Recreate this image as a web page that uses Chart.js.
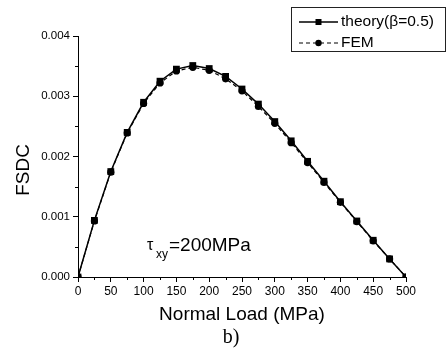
<!DOCTYPE html>
<html>
<head>
<meta charset="utf-8">
<script src="https://cdn.jsdelivr.net/npm/chart.js@4"></script>
<style>
  body { margin: 0; background: #fff; }
  #wrap { width: 447px; height: 351px; }
</style>
</head>
<body>
<div id="wrap"><canvas id="myChart" width="447" height="351"></canvas></div>
<script>
// values
const loads  = [0, 25, 50, 75, 100, 125, 150, 175, 200, 225, 250, 275, 300, 325, 350, 375, 400, 425, 450, 475, 500];
const theory = [0, 0.00094, 0.00175, 0.0024, 0.0029, 0.00325, 0.00345, 0.00351, 0.00346, 0.00333, 0.00312, 0.00287, 0.00258, 0.00226, 0.00192, 0.00159, 0.00125, 0.00093, 0.00061, 0.0003, 0];
const fem    = [0, 0.00093, 0.00174, 0.00239, 0.00288, 0.00322, 0.00342, 0.00348, 0.00343, 0.00329, 0.00309, 0.00283, 0.00255, 0.00223, 0.0019, 0.00157, 0.00124, 0.00092, 0.0006, 0.0003, 0];
const xTicks = [0, 50, 100, 150, 200, 250, 300, 350, 400, 450, 500];
const yTicks = [0, 0.001, 0.002, 0.003, 0.004];
const xMinor = [25, 75, 125, 175, 225, 275, 325, 375, 425, 475];
const yMinor = [0.0005, 0.0015, 0.0025, 0.0035];

const sans = "'Liberation Sans', Arial, sans-serif";

const toPts = (xs, ys) => xs.map((x, i) => ({ x: x, y: ys[i] }));

// minor ticks, titles, annotation, legend
const extras = {
  id: 'extras',
  afterDraw(chart) {
    const ctx = chart.ctx;
    const xs = chart.scales.x, ys = chart.scales.y;
    const area = chart.chartArea;
    ctx.save();
    ctx.strokeStyle = '#000';
    ctx.lineWidth = 1;
    ctx.beginPath();
    xMinor.forEach(v => {
      const px = Math.round(xs.getPixelForValue(v)) + 0.5;
      ctx.moveTo(px, area.bottom);
      ctx.lineTo(px, area.bottom + 3);
    });
    yMinor.forEach(v => {
      const py = Math.round(ys.getPixelForValue(v)) + 0.5;
      ctx.moveTo(area.left, py);
      ctx.lineTo(area.left - 3, py);
    });
    ctx.stroke();

    ctx.fillStyle = '#000';
    ctx.textAlign = 'center';
    ctx.textBaseline = 'middle';
    ctx.font = '19px ' + sans;
    ctx.fillText('Normal Load (MPa)', (area.left + area.right) / 2, 315);
    ctx.save();
    ctx.translate(24, 170);
    ctx.rotate(-Math.PI / 2);
    ctx.fillText('FSDC', 0, 0);
    ctx.restore();

    ctx.font = "20px 'Liberation Serif', 'Times New Roman', serif";
    ctx.fillText('b)', 231, 338);

    // tau_xy annotation
    ctx.textAlign = 'left';
    ctx.font = '16px ' + sans;
    ctx.fillText('τ', 147, 246);
    ctx.font = '12px ' + sans;
    ctx.fillText('xy', 156, 255);
    ctx.font = '19px ' + sans;
    ctx.fillText('=200MPa', 169, 246);

    // legend
    ctx.strokeStyle = '#222';
    ctx.strokeRect(291.5, 7.5, 154, 44);
    const rows = [
      { ds: chart.data.datasets[0], y: 22 },
      { ds: chart.data.datasets[1], y: 43 }
    ];
    rows.forEach(r => {
      ctx.save();
      ctx.strokeStyle = '#000';
      ctx.lineWidth = r.ds.borderWidth;
      ctx.setLineDash(r.ds.borderDash || []);
      ctx.beginPath();
      ctx.moveTo(299, r.y);
      ctx.lineTo(338, r.y);
      ctx.stroke();
      ctx.restore();
      ctx.fillStyle = '#000';
      ctx.beginPath();
      if (r.ds.pointStyle === 'rect') {
        ctx.rect(318.5 - 3, r.y - 3, 6, 6);
      } else {
        ctx.arc(318.5, r.y, 3.2, 0, Math.PI * 2);
      }
      ctx.fill();
      ctx.font = '15.5px ' + sans;
      ctx.textAlign = 'left';
      ctx.fillText(r.ds.label, 341, r.y);
    });
    ctx.restore();
  }
};

const ctx = document.getElementById('myChart');

new Chart(ctx, {
  type: 'line',
  data: {
    datasets: [
      {
        label: 'theory(β=0.5)',
        data: toPts(loads, theory),
        borderColor: '#000',
        backgroundColor: '#000',
        borderWidth: 1.5,
        pointStyle: 'rect',
        pointRadius: 4.8,
        pointBorderWidth: 0,
        tension: 0,
        clip: 0,
        order: 0
      },
      {
        label: 'FEM',
        data: toPts(loads, fem),
        borderColor: '#000',
        backgroundColor: '#000',
        borderWidth: 1.2,
        borderDash: [4, 3],
        pointStyle: 'circle',
        pointRadius: 3.6,
        pointBorderWidth: 0,
        tension: 0,
        clip: 0,
        order: 1
      }
    ]
  },
  plugins: [extras],
  options: {
    responsive: false,
    animation: false,
    events: [],
    layout: { padding: { top: 36, right: 41, left: 0, bottom: 0 } },
    plugins: {
      legend: { display: false },
      tooltip: { enabled: false }
    },
    scales: {
      x: {
        type: 'linear',
        min: 0,
        max: 500,
        afterFit: s => { s.height = 74; },
        afterBuildTicks: s => { s.ticks = xTicks.map(v => ({ value: v })); },
        grid: { drawOnChartArea: false, tickLength: 5, tickColor: '#000' },
        border: { color: '#000', width: 1 },
        ticks: { color: '#000', padding: 2, maxRotation: 0, font: { family: sans, size: 12 } }
      },
      y: {
        min: 0,
        max: 0.004,
        afterFit: s => { s.width = 78; },
        afterBuildTicks: s => { s.ticks = yTicks.map(v => ({ value: v })); },
        grid: { drawOnChartArea: false, tickLength: 5, tickColor: '#000' },
        border: { color: '#000', width: 1 },
        ticks: {
          color: '#000',
          padding: 3,
          font: { family: sans, size: 11.5 },
          callback: v => v.toFixed(3)
        }
      }
    }
  }
});
</script>
</body>
</html>
